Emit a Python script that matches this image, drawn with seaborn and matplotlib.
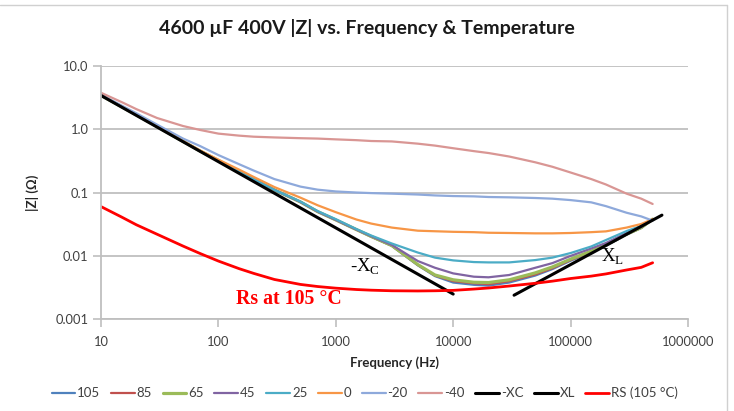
import numpy as np
import pandas as pd
import matplotlib
matplotlib.use("Agg")
import matplotlib.pyplot as plt
from matplotlib.lines import Line2D
import seaborn as sns

# ---------------- data ----------------
freq = [10, 15, 20, 30, 50, 70, 100, 150, 200, 300, 500, 700, 1000, 1500,
        2000, 3000, 5000, 7000, 10000, 15000, 20000, 30000, 50000, 70000,
        100000, 150000, 200000, 300000, 400000, 500000]

z_105 = [3.4, 2.25, 1.68, 1.1, 0.64, 0.45, 0.32, 0.214, 0.162, 0.11, 0.071, 0.050, 0.037, 0.026,
         0.0201, 0.0144, 0.0071, 0.0048, 0.0038, 0.0035, 0.0034, 0.0038, 0.0049, 0.0062,
         0.0084, 0.0114, 0.0144, 0.0216, 0.0276, 0.038]
z_85 = [3.4, 2.25, 1.68, 1.1, 0.64, 0.45, 0.32, 0.214, 0.162, 0.11, 0.071, 0.050, 0.037, 0.026,
        0.0202, 0.0145, 0.0072, 0.0049, 0.0040, 0.0037, 0.0036, 0.0040, 0.0051, 0.0064,
        0.0086, 0.0116, 0.0146, 0.0218, 0.0278, 0.038]
z_65 = [3.4, 2.25, 1.68, 1.1, 0.64, 0.45, 0.32, 0.214, 0.162, 0.11, 0.071, 0.050, 0.037, 0.026,
        0.0203, 0.0146, 0.0073, 0.0050, 0.0042, 0.00384, 0.0038, 0.0042, 0.0054, 0.0067,
        0.0089, 0.0119, 0.0149, 0.0221, 0.028, 0.038]
z_45 = [3.4, 2.25, 1.68, 1.1, 0.64, 0.45, 0.32, 0.214, 0.162, 0.11, 0.071, 0.050, 0.037, 0.026,
        0.0205, 0.0149, 0.0083, 0.0065, 0.0053, 0.0047, 0.0046, 0.0050, 0.0065, 0.0077,
        0.0100, 0.0131, 0.016, 0.023, 0.0286, 0.038]
z_25 = [3.4, 2.25, 1.68, 1.1, 0.64, 0.45, 0.32, 0.214, 0.162, 0.11, 0.072, 0.051, 0.038, 0.0265,
        0.021, 0.0157, 0.0113, 0.0094, 0.0085, 0.0080, 0.0079, 0.0079, 0.0086, 0.0094,
        0.0111, 0.0141, 0.0178, 0.0247, 0.0297, 0.038]
z_0 = [3.45, 2.3, 1.72, 1.13, 0.65, 0.46, 0.33, 0.23, 0.176, 0.122, 0.083, 0.063, 0.049, 0.0375,
       0.0324, 0.028, 0.025, 0.0245, 0.024, 0.0237, 0.0232, 0.023, 0.0227, 0.0227,
       0.023, 0.0237, 0.0244, 0.028, 0.0319, 0.038]
z_m20 = [3.5, 2.35, 1.78, 1.18, 0.71, 0.54, 0.39, 0.28, 0.222, 0.163, 0.124, 0.111, 0.104, 0.100,
         0.098, 0.096, 0.093, 0.090, 0.088, 0.087, 0.085, 0.084, 0.082, 0.080,
         0.076, 0.070, 0.061, 0.048, 0.042, 0.036]
z_m40 = [3.75, 2.67, 2.07, 1.50, 1.12, 0.97, 0.85, 0.79, 0.76, 0.74, 0.72, 0.71, 0.69, 0.67,
         0.65, 0.64, 0.59, 0.55, 0.50, 0.45, 0.42, 0.37, 0.30, 0.255,
         0.207, 0.163, 0.134, 0.096, 0.080, 0.066]

freq_xc = [10, 10000]
z_xc = [3.4, 0.0025]
freq_xl = [33000, 600000]
z_xl = [0.0024, 0.044]

z_rs = [0.060, 0.041, 0.031, 0.022, 0.0143, 0.0109, 0.0083, 0.0063, 0.0053, 0.00425,
        0.00355, 0.00329, 0.0031, 0.00295, 0.00288, 0.00282, 0.0028, 0.00282, 0.00286,
        0.0030, 0.00312, 0.00335, 0.0037, 0.0040, 0.0044, 0.0048, 0.0052, 0.0060,
        0.0066, 0.0078]

series_labels = ["105", "85", "65", "45", "25", "0", "-20", "-40"]
series_values = [z_105, z_85, z_65, z_45, z_25, z_0, z_m20, z_m40]
series_colors = ["#4F81BD", "#C0504D", "#9BBB59", "#8064A2", "#4BACC6",
                 "#F79646", "#8EA9DB", "#D99694"]
series_widths = [1.6, 1.6, 2.3, 1.6, 1.6, 1.6, 1.6, 1.6]

x_ticks = [10, 100, 1000, 10000, 100000, 1000000]
x_tick_labels = ["10", "100", "1000", "10000", "100000", "1000000"]
y_ticks = [0.001, 0.01, 0.1, 1, 10]
y_tick_labels = ["0.001", "0.01", "0.1", "1.0", "10.0"]

# ---------------- style ----------------
sns.set_theme(style="white")
plt.rcParams["font.family"] = ["Lato", "DejaVu Sans"]

fig = plt.figure(figsize=(7.34, 4.11), dpi=100)
ax = fig.add_axes([0.1376, 0.2231, 0.9373 - 0.1376, 0.840 - 0.2231])

for lab, vals, col, lw in zip(series_labels, series_values, series_colors, series_widths):
    sns.lineplot(x=freq, y=vals, ax=ax, color=col, linewidth=lw, label=lab,
                 sort=False, estimator=None)

sns.lineplot(x=freq_xc, y=z_xc, ax=ax, color="black", linewidth=2.2, label="-XC",
             sort=False, estimator=None)
sns.lineplot(x=freq_xl, y=z_xl, ax=ax, color="black", linewidth=2.2, label="XL",
             sort=False, estimator=None)
sns.lineplot(x=freq, y=z_rs, ax=ax, color="#FF0000", linewidth=2.0,
             label="RS (105 °C)", sort=False, estimator=None)

ax.set_xscale("log")
ax.set_yscale("log")
ax.set_xlim(10, 1000000)
ax.set_ylim(0.001, 10)
ax.set_xticks(x_ticks)
ax.set_xticklabels(x_tick_labels)
ax.set_yticks(y_ticks)
ax.set_yticklabels(y_tick_labels)
ax.minorticks_off()

ax.grid(axis="y", color="#BFBFBF", linewidth=1.3)
ax.grid(axis="x", visible=False)
ax.set_axisbelow(True)
for s in ["top", "right"]:
    ax.spines[s].set_visible(False)
for s in ["left", "bottom"]:
    ax.spines[s].set_color("#BFBFBF")
    ax.spines[s].set_linewidth(1.3)
ax.tick_params(axis="both", which="major", length=5.5, width=1.2, color="#BFBFBF",
               labelsize=9.3, labelcolor="#404040", direction="out")
ax.tick_params(axis="x", pad=6.5)
ax.tick_params(axis="y", pad=3.5)
ax.xaxis.set_ticks_position("bottom")
ax.yaxis.set_ticks_position("left")

ax.set_xlabel("Frequency (Hz)", fontsize=9.5, fontweight="bold", color="#262626", labelpad=6)
ax.set_ylabel("|Z| (Ω)", fontsize=9.5, fontweight="bold", color="#262626", labelpad=12)

fig.suptitle("4600 µF 400V |Z| vs. Frequency & Temperature", x=0.5, y=0.932,
             va="center", fontsize=14, fontweight="bold", color="#1a1a1a")

# annotations
ax.text(1315, 0.0067, r"-X$_\mathregular{C}$", family="Liberation Serif",
        fontsize=13.5, color="black", ha="left", va="center")
ax.text(183000, 0.0096, r"X$_\mathregular{L}$", family="Liberation Serif",
        fontsize=13.5, color="black", ha="left", va="center")
ax.text(140, 0.00212, "Rs at 105 °C", family="Liberation Serif",
        fontsize=14.3, fontweight="bold", color="#FF0000", ha="left", va="center")

# legend
handles, labels = ax.get_legend_handles_labels()
ax.legend_.remove()
fig.legend(handles, labels, loc="center", bbox_to_anchor=(0.497, 0.044), ncol=11,
           frameon=False, fontsize=9.5, handlelength=1.8, handletextpad=0.15,
           columnspacing=0.8, labelcolor="#404040")

# chart border
fig.add_artist(Line2D([0, 727 / 734], [1 - 5 / 411, 1 - 5 / 411], transform=fig.transFigure,
                      color="#D0D0D0", linewidth=1.0))
fig.add_artist(Line2D([727 / 734, 727 / 734], [0, 1 - 5 / 411], transform=fig.transFigure,
                      color="#D0D0D0", linewidth=1.0))

fig.savefig("out.png", dpi=100)
